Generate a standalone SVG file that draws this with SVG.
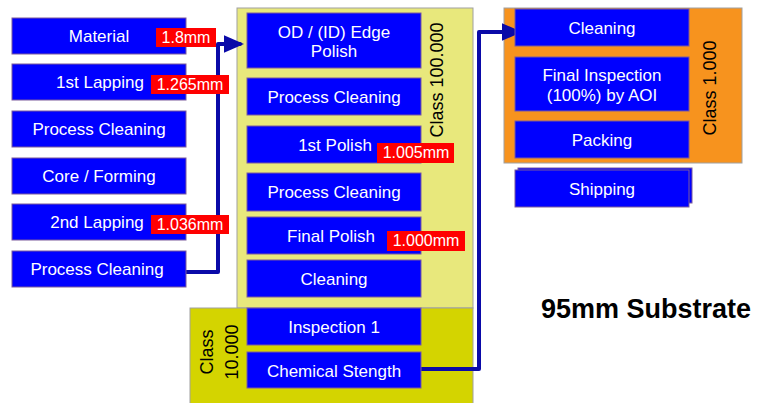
<svg xmlns="http://www.w3.org/2000/svg" width="757" height="403" viewBox="0 0 757 403">
<style>
.box{fill:#0000FF;stroke:#7B5A9C;stroke-width:1}
.t{fill:#FFFFFF;font-family:"Liberation Sans",Arial,sans-serif;font-size:17px;text-anchor:middle}
.tag{fill:#FF0000}
.tt{fill:#FFFFFF;font-family:"Liberation Sans",Arial,sans-serif;font-size:16px;text-anchor:middle}
.cls{fill:#000000;font-family:"Liberation Sans",Arial,sans-serif;font-size:18px;text-anchor:middle}
.conn{fill:none;stroke:#0A0AA8;stroke-width:4;stroke-linejoin:round;stroke-linecap:round}
</style>
<defs>
<marker id="ah" markerWidth="6" markerHeight="6" refX="4" refY="3" orient="auto" markerUnits="strokeWidth">
<path d="M0,0.8 L5,3 L0,5.2 Z" fill="#0A0AA8"/>
</marker>
</defs>
<rect width="757" height="403" fill="#FFFFFF"/>

<g id="zone-class100000">
<rect x="237" y="8" width="236" height="300" fill="#E8E87C" stroke="#A0A0A0" stroke-width="1"/>
<text class="cls" transform="translate(443,80) rotate(-90)">Class 100.000</text>
</g>
<g id="zone-class10000">
<rect x="190" y="308" width="283" height="100" fill="#D4D400" stroke="#A0A0A0" stroke-width="1"/>
<text class="cls" transform="translate(213,352) rotate(-90)">Class</text>
<text class="cls" transform="translate(238,352) rotate(-90)">10.000</text>
</g>
<g id="zone-class1000">
<rect x="504" y="8" width="238" height="155" fill="#F7931E" stroke="#A0A0A0" stroke-width="1"/>
<text class="cls" transform="translate(716,88) rotate(-90)">Class 1.000</text>
</g>

<g id="connectors">
<path class="conn" d="M183,272 H218 V44 H240" marker-end="url(#ah)"/>
<path class="conn" d="M418,369 H479 V32 H518" marker-end="url(#ah)"/>
</g>

<g id="n-material"><rect class="box" x="12" y="18" width="174" height="36"/><text class="t" x="99" y="42">Material</text></g>
<g id="n-lapping1"><rect class="box" x="12" y="64" width="174" height="36"/><text class="t" x="100" y="88">1st Lapping</text></g>
<g id="n-pc1"><rect class="box" x="12" y="111" width="174" height="36"/><text class="t" x="99" y="135">Process Cleaning</text></g>
<g id="n-core"><rect class="box" x="12" y="158" width="174" height="36"/><text class="t" x="99" y="182">Core / Forming</text></g>
<g id="n-lapping2"><rect class="box" x="12" y="204" width="174" height="36"/><text class="t" x="97" y="228">2nd Lapping</text></g>
<g id="n-pc2"><rect class="box" x="12" y="251" width="174" height="36"/><text class="t" x="97" y="275">Process Cleaning</text></g>

<g id="tag-18"><rect class="tag" x="156" y="28" width="60" height="19"/><text class="tt" x="186" y="43">1.8mm</text></g>
<g id="tag-1265"><rect class="tag" x="151" y="75" width="78" height="19"/><text class="tt" x="190" y="90">1.265mm</text></g>
<g id="tag-1036"><rect class="tag" x="151" y="215" width="78" height="19"/><text class="tt" x="190" y="230">1.036mm</text></g>

<g id="n-edge"><rect class="box" x="247" y="13" width="174" height="55"/><text class="t" x="334" y="38">OD / (ID) Edge</text><text class="t" x="334" y="57">Polish</text></g>
<g id="n-pc3"><rect class="box" x="247" y="78" width="174" height="37"/><text class="t" x="334" y="103">Process Cleaning</text></g>
<g id="n-polish1"><rect class="box" x="247" y="126" width="174" height="37"/><text class="t" x="335" y="151">1st Polish</text></g>
<g id="n-pc4"><rect class="box" x="247" y="173" width="174" height="38"/><text class="t" x="334" y="198">Process Cleaning</text></g>
<g id="n-finalpolish"><rect class="box" x="247" y="217" width="174" height="37"/><text class="t" x="331" y="242">Final Polish</text></g>
<g id="n-cleaning1"><rect class="box" x="247" y="260" width="174" height="37"/><text class="t" x="334" y="285">Cleaning</text></g>
<g id="n-insp1"><rect class="box" x="247" y="308" width="174" height="37"/><text class="t" x="334" y="333">Inspection 1</text></g>
<g id="n-chem"><rect class="box" x="247" y="352" width="174" height="36"/><text class="t" x="334" y="377">Chemical Stength</text></g>

<g id="tag-1005"><rect class="tag" x="377" y="143" width="77" height="20"/><text class="tt" x="416" y="158">1.005mm</text></g>
<g id="tag-1000"><rect class="tag" x="387" y="231" width="78" height="20"/><text class="tt" x="426" y="246">1.000mm</text></g>

<g id="n-cleaning2"><rect class="box" x="515" y="9" width="174" height="37"/><text class="t" x="602" y="34">Cleaning</text></g>
<g id="n-finalinsp"><rect class="box" x="515" y="57" width="174" height="54"/><text class="t" x="602" y="81">Final Inspection</text><text class="t" x="602" y="101">(100%) by AOI</text></g>
<g id="n-packing"><rect class="box" x="515" y="121" width="174" height="37"/><text class="t" x="602" y="146">Packing</text></g>
<g id="n-shipping"><rect class="box" x="518" y="168" width="174" height="35"/><rect class="box" x="515" y="170" width="174" height="37"/><text class="t" x="602" y="195">Shipping</text></g>

<text x="646" y="318" font-family="'Liberation Sans',Arial,sans-serif" font-size="27" font-weight="bold" text-anchor="middle" fill="#000000">95mm Substrate</text>
</svg>
